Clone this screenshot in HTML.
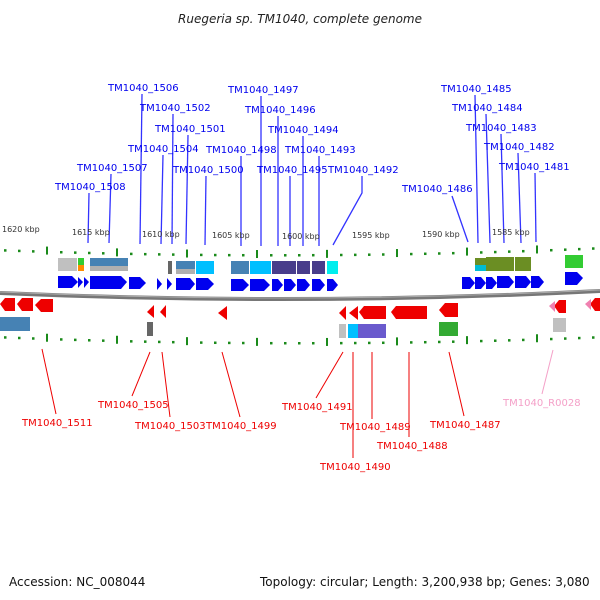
<!DOCTYPE html>
<html><head><style>
body{margin:0;background:#fff;width:600px;height:600px;overflow:hidden}
svg{display:block}
text{font-family:"DejaVu Sans","Liberation Sans",sans-serif}
.b{fill:#0000ee;font-size:10px}
.r{fill:#ee0000;font-size:10px}
.k{fill:#333;font-size:8px}
</style></head><body>
<svg id="s" width="600" height="600" xmlns="http://www.w3.org/2000/svg">
<text x="300" y="23" text-anchor="middle" font-size="12" font-style="italic" fill="#222">Ruegeria sp. TM1040, complete genome</text>
<g stroke="#3333ff" stroke-width="1.3" fill="none">
<line x1="142" y1="94" x2="140" y2="244"/><line x1="173" y1="114" x2="172" y2="244"/>
<line x1="188" y1="135" x2="186" y2="244"/><line x1="163" y1="155" x2="161" y2="244"/>
<line x1="111" y1="174" x2="109" y2="243"/><line x1="89" y1="193" x2="88" y2="243"/>
<line x1="261" y1="96" x2="261" y2="246"/><line x1="278" y1="116" x2="278" y2="246"/>
<line x1="303" y1="136" x2="303" y2="246"/><line x1="241" y1="156" x2="241" y2="246"/>
<line x1="319" y1="156" x2="319" y2="246"/><line x1="206" y1="176" x2="205" y2="245"/>
<line x1="290" y1="176" x2="290" y2="246"/>
<polyline points="362,176 362,193 333,245"/>
<line x1="475" y1="95" x2="478" y2="243"/><line x1="486" y1="114" x2="490" y2="243"/>
<line x1="501" y1="134" x2="504" y2="243"/><line x1="518" y1="153" x2="521" y2="243"/>
<line x1="535" y1="173" x2="536" y2="242"/>
<line x1="452" y1="196" x2="468" y2="242"/>
</g>
<g class="b">
<text x="108" y="91">TM1040_1506</text><text x="140" y="111">TM1040_1502</text>
<text x="155" y="132">TM1040_1501</text><text x="128" y="152">TM1040_1504</text>
<text x="77" y="171">TM1040_1507</text><text x="55" y="190">TM1040_1508</text>
<text x="228" y="93">TM1040_1497</text><text x="245" y="113">TM1040_1496</text>
<text x="268" y="133">TM1040_1494</text><text x="206" y="153">TM1040_1498</text>
<text x="285" y="153">TM1040_1493</text><text x="173" y="173">TM1040_1500</text>
<text x="257" y="173">TM1040_1495</text><text x="328" y="173">TM1040_1492</text>
<text x="441" y="92">TM1040_1485</text><text x="452" y="111">TM1040_1484</text>
<text x="466" y="131">TM1040_1483</text><text x="484" y="150">TM1040_1482</text>
<text x="499" y="170">TM1040_1481</text><text x="402" y="192">TM1040_1486</text>
</g>
<g class="k">
<text x="2" y="232">1620 kbp</text><text x="72" y="235">1615 kbp</text>
<text x="142" y="237">1610 kbp</text><text x="212" y="238">1605 kbp</text>
<text x="282" y="239">1600 kbp</text><text x="352" y="238">1595 kbp</text>
<text x="422" y="237">1590 kbp</text><text x="492" y="235">1585 kbp</text>
</g>
<g id="ticks" fill="#1a8a1a"></g>
<path d="M0,293 Q300,306 600,291" stroke="#777" stroke-width="4" fill="none"/>
<path d="M0,292 Q300,305 600,290" stroke="#aaa" stroke-width="1" fill="none"/>
<g>
<rect x="58" y="258" width="19" height="13" fill="#c0c0c0"/>
<rect x="78" y="258" width="6" height="7" fill="#33cc33"/><rect x="78" y="265" width="6" height="6" fill="#ff8c00"/>
<rect x="90" y="258" width="38" height="8" fill="#4682b4"/><rect x="90" y="266" width="38" height="5" fill="#b0b0b0"/>
<rect x="168" y="261" width="4" height="13" fill="#666"/>
<rect x="176" y="261" width="19" height="8" fill="#4682b4"/><rect x="176" y="269" width="19" height="5" fill="#b0b0b0"/>
<rect x="196" y="261" width="18" height="13" fill="#00bfff"/>
<rect x="231" y="261" width="18" height="13" fill="#4682b4"/>
<rect x="250" y="261" width="21" height="13" fill="#00bfff"/>
<rect x="272" y="261" width="12" height="13" fill="#483d8b"/><rect x="284" y="261" width="12" height="13" fill="#483d8b"/>
<rect x="297" y="261" width="13" height="13" fill="#483d8b"/><rect x="312" y="261" width="13" height="13" fill="#483d8b"/>
<rect x="327" y="261" width="11" height="13" fill="#00eeee"/>
<rect x="475" y="258" width="11" height="13" fill="#6b8e23"/><rect x="475" y="265" width="11" height="6" fill="#00bcd4"/>
<rect x="486" y="257" width="28" height="14" fill="#6b8e23"/><rect x="515" y="257" width="16" height="14" fill="#6b8e23"/>
<rect x="565" y="255" width="18" height="13" fill="#33cc33"/>
</g>
<g fill="#0000ee">
<polygon points="58,276 72,276 78,282 72,288 58,288"/>
<polygon points="78,277 83,282 78,288"/><polygon points="84,277 89,282 84,288"/>
<polygon points="90,276 121,276 127,282 121,289 90,289"/>
<polygon points="129,277 140,277 146,283 140,289 129,289"/>
<polygon points="157,278 162,284 157,290"/><polygon points="167,278 172,284 167,290"/>
<polygon points="176,278 190,278 195,284 190,290 176,290"/>
<polygon points="196,278 208,278 214,284 208,290 196,290"/>
<polygon points="231,279 243,279 249,285 243,291 231,291"/>
<polygon points="250,279 264,279 270,285 264,291 250,291"/>
<polygon points="272,279 278,279 283,285 278,291 272,291"/>
<polygon points="284,279 291,279 296,285 291,291 284,291"/>
<polygon points="297,279 305,279 310,285 305,291 297,291"/>
<polygon points="312,279 320,279 325,285 320,291 312,291"/>
<polygon points="327,279 333,279 338,285 333,291 327,291"/>
<polygon points="462,277 470,277 475,283 470,289 462,289"/>
<polygon points="475,277 481,277 486,283 481,289 475,289"/>
<polygon points="486,277 492,277 497,283 492,289 486,289"/>
<polygon points="497,276 509,276 514,282 509,288 497,288"/>
<polygon points="515,276 526,276 531,282 526,288 515,288"/>
<polygon points="531,276 539,276 544,282 539,288 531,288"/>
<polygon points="565,272 577,272 583,278 577,285 565,285"/>
</g>
<g fill="#ee0000">
<polygon points="0,304 5,298 15,298 15,311 5,311"/>
<polygon points="17,304 22,298 33,298 33,311 22,311"/>
<polygon points="35,305 41,299 53,299 53,312 41,312"/>
<polygon points="147,312 154,305 154,318"/><polygon points="160,312 166,305 166,318"/>
<polygon points="218,313 227,306 227,320"/>
<polygon points="339,313 346,306 346,320"/><polygon points="349,313 358,306 358,320"/>
<polygon points="359,312 364,306 386,306 386,319 364,319"/>
<polygon points="391,312 396,306 427,306 427,319 396,319"/>
<polygon points="439,310 445,303 458,303 458,317 445,317"/>
<polygon points="554,306 559,300 566,300 566,313 559,313"/>
<polygon points="590,304 595,298 600,298 600,311 595,311"/>
</g>
<g fill="#f080b0"><polygon points="549,306 555,301 555,312"/><polygon points="585,304 591,299 591,310"/></g>
<rect x="0" y="317" width="30" height="14" fill="#4682b4"/>
<rect x="147" y="322" width="6" height="14" fill="#666"/>
<rect x="339" y="324" width="7" height="14" fill="#c0c0c0"/>
<rect x="348" y="324" width="10" height="14" fill="#00bfff"/>
<rect x="358" y="324" width="28" height="14" fill="#6a5acd"/>
<rect x="439" y="322" width="19" height="14" fill="#33aa33"/>
<rect x="553" y="318" width="13" height="14" fill="#c0c0c0"/>
<g stroke="#ee0000" stroke-width="1" fill="none">
<line x1="42" y1="349" x2="56" y2="414"/><line x1="150" y1="352" x2="132" y2="396"/>
<line x1="162" y1="352" x2="170" y2="417"/><line x1="222" y1="352" x2="240" y2="417"/>
<line x1="343" y1="352" x2="316" y2="398"/><line x1="353" y1="352" x2="353" y2="458"/>
<line x1="372" y1="352" x2="372" y2="419"/><line x1="409" y1="352" x2="409" y2="437"/>
<line x1="449" y1="352" x2="464" y2="416"/>
</g>
<line x1="553" y1="350" x2="542" y2="394" stroke="#f4a0c8"/>
<g class="r">
<text x="22" y="426">TM1040_1511</text><text x="98" y="408">TM1040_1505</text>
<text x="135" y="429">TM1040_1503</text><text x="206" y="429">TM1040_1499</text>
<text x="282" y="410">TM1040_1491</text><text x="320" y="470">TM1040_1490</text>
<text x="340" y="430">TM1040_1489</text><text x="377" y="449">TM1040_1488</text>
<text x="430" y="428">TM1040_1487</text>
</g>
<text x="503" y="406" font-size="10" fill="#f4a0c8">TM1040_R0028</text>
<text x="9" y="586" font-size="12" fill="#111">Accession: NC_008044</text>
<text x="260" y="586" font-size="12" fill="#111">Topology: circular; Length: 3,200,938 bp; Genes: 3,080</text>
</svg>
<script>
var g=document.getElementById('ticks'),ns='http://www.w3.org/2000/svg';
for(var i=0;i<44;i++){var x=5+i*14;var t=(x-300)/300;
var yt=255-6*t*t-1*t,yb=343-6*t*t;var major=((i-3)%5==0);
[yt,yb].forEach(function(y){var r=document.createElementNS(ns,'rect');
r.setAttribute('x',x-1);r.setAttribute('width',major?2:2.5);
r.setAttribute('y',major?y-5:y-1);r.setAttribute('height',major?8:2.5);g.appendChild(r);});}
</script>
</body></html>
